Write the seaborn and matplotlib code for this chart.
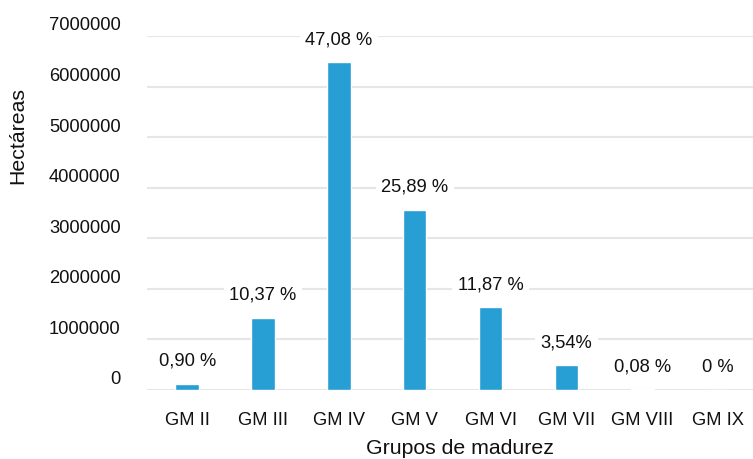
import numpy as np
import seaborn as sns
import matplotlib.pyplot as plt
import pandas as pd
from matplotlib.transforms import ScaledTranslation

grupos = ['GM II', 'GM III', 'GM IV', 'GM V', 'GM VI', 'GM VII', 'GM VIII', 'GM IX']
hectareas = [124000, 1428000, 6483000, 3565000, 1634000, 487000, 11000, 300]
porcentajes = ['0,90 %', '10,37 %', '47,08 %', '25,89 %', '11,87 %', '3,54%', '0,08 %', '0 %']
yticks = [0, 1000000, 2000000, 3000000, 4000000, 5000000, 6000000, 7000000]

df = pd.DataFrame({'grupo': grupos, 'ha': hectareas})

sns.set_style('white')
plt.rcParams['font.family'] = ['Liberation Sans', 'DejaVu Sans']

fig = plt.figure(figsize=(7.53, 4.59), dpi=100)
ax = fig.add_axes([147 / 753, (459 - 390) / 459, 1 - 147 / 753, (390 - 36) / 459])

sns.barplot(data=df, x='grupo', y='ha', color='#279fd5', saturation=1, width=0.31, ax=ax)

ax.set_xlim(-0.53, 7.46)
ax.set_ylim(0, 7000000)
ax.set_yticks(yticks)
ax.set_yticklabels([str(v) for v in yticks])
ax.yaxis.grid(True, color='#e6e6e6', linewidth=1.5)
ax.set_axisbelow(True)
sns.despine(ax=ax, left=True, bottom=True)
ax.tick_params(axis='y', length=0, pad=19, labelsize=13.2, colors='#111111')
ax.tick_params(axis='x', length=0, pad=16, labelsize=13.2, colors='#111111')
for lab in ax.get_yticklabels():
    lab.set_transform(lab.get_transform() + ScaledTranslation(0, 0.12, fig.dpi_scale_trans))
ax.set_xlabel('')
ax.set_ylabel('')

ax.bar_label(ax.containers[0], labels=porcentajes, padding=10, fontsize=13.2, color='#111111',
             bbox=dict(facecolor='white', edgecolor='none', pad=4))

fig.text(18 / 753, 1 - 135 / 459, 'Hectáreas', rotation=90, ha='center', va='center',
         fontsize=15.3, color='#111111')
fig.text(460 / 753, 1 - 448 / 459, 'Grupos de madurez', ha='center', va='center',
         fontsize=15.3, color='#111111')

fig.savefig('out.png', dpi=100)
